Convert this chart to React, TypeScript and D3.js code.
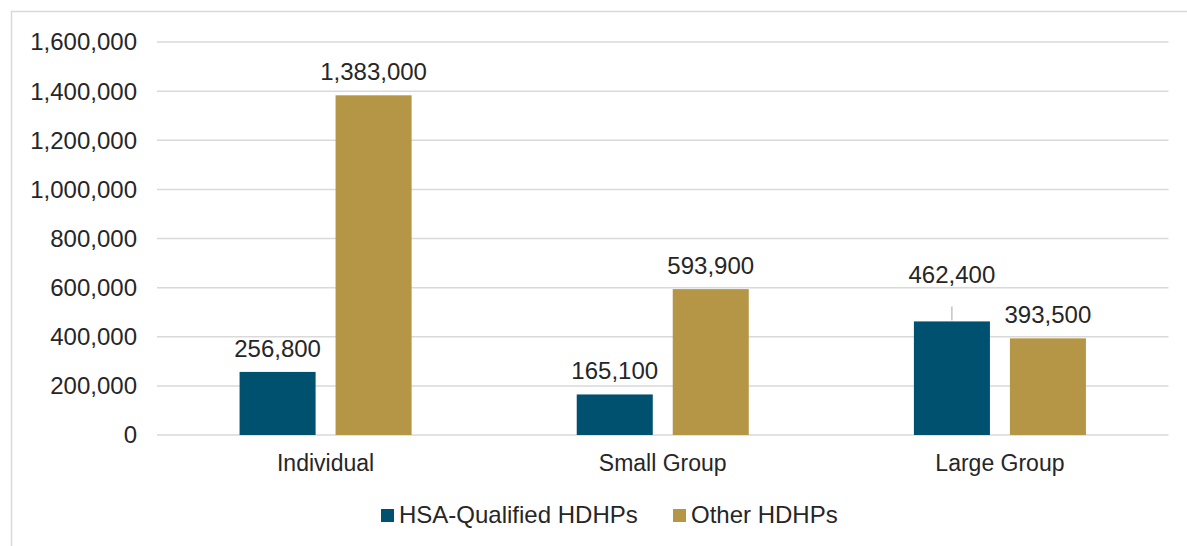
import React, { useRef, useEffect } from 'react';
import * as d3 from 'd3';

// chart data
const categories = ['Individual', 'Small Group', 'Large Group'];
const seriesNames = ['HSA-Qualified HDHPs', 'Other HDHPs'];
const hsaValues = [256800, 165100, 462400];
const otherValues = [1383000, 593900, 393500];
const yTicks = [0, 200000, 400000, 600000, 800000, 1000000, 1200000, 1400000, 1600000];

const colors = ['#00506f', '#b49646'];
const FONT = '"Liberation Sans", Arial, sans-serif';
const TEXT = '#262626';

const BarChart = () => {
    const ref = useRef<SVGSVGElement | null>(null);

    useEffect(() => {
        const width = 1187;
        const height = 546;
        const left = 157, right = 1168.5, top = 42, bottom = 435;

        const svg = d3.select(ref.current);
        svg.selectAll('*').remove();

        // outer frame
        svg.append('rect')
            .attr('x', 11.5).attr('y', 11.5)
            .attr('width', width + 20).attr('height', height + 20)
            .attr('fill', 'white')
            .attr('stroke', '#d9d9d9').attr('stroke-width', 1.5);

        const y = d3.scaleLinear().domain([0, 1600000]).range([bottom, top]);
        const x = d3.scaleBand().domain(categories).range([left, right]).padding(0);
        const xs = d3.scaleBand().domain(seriesNames).range([0, x.bandwidth()])
            .paddingInner(0.208).paddingOuter(0.86);

        const fmt = d3.format(',');

        // gridlines + y labels
        svg.append('g').selectAll('line').data(yTicks).enter().append('line')
            .attr('x1', left).attr('x2', right)
            .attr('y1', d => y(d)).attr('y2', d => y(d))
            .attr('stroke', '#d9d9d9').attr('stroke-width', 1.5);

        svg.append('g').selectAll('text').data(yTicks).enter().append('text')
            .attr('x', 137).attr('y', d => y(d))
            .attr('dy', '0.35em')
            .attr('text-anchor', 'end')
            .style('font-family', FONT).style('font-size', '24px').attr('fill', TEXT)
            .text(d => fmt(d));

        // bars
        const rows = categories.map((c, i) => ({ cat: c, vals: [hsaValues[i], otherValues[i]] }));
        const g = svg.append('g').selectAll('g').data(rows).enter().append('g')
            .attr('transform', d => `translate(${x(d.cat)},0)`);

        g.selectAll('rect')
            .data(d => d.vals.map((v, j) => ({ v, s: seriesNames[j], j, cat: d.cat })))
            .enter().append('rect')
            .attr('x', d => xs(d.s) as number)
            .attr('width', xs.bandwidth())
            .attr('y', d => y(d.v))
            .attr('height', d => bottom - y(d.v))
            .attr('fill', d => colors[d.j]);

        // data labels (the crowded Large Group HSA label is lifted with a leader line)
        const lift = (d: any) => (d.cat === 'Large Group' && d.j === 0 ? 23 : 0);
        g.selectAll('text.lbl')
            .data(d => d.vals.map((v, j) => ({ v, s: seriesNames[j], j, cat: d.cat })))
            .enter().append('text')
            .attr('class', 'lbl')
            .attr('x', d => (xs(d.s) as number) + xs.bandwidth() / 2)
            .attr('y', d => y(d.v) - 15 - lift(d))
            .attr('text-anchor', 'middle')
            .style('font-family', FONT).style('font-size', '24px').attr('fill', TEXT)
            .text(d => fmt(d.v));

        g.selectAll('line.leader')
            .data(d => d.vals.map((v, j) => ({ v, s: seriesNames[j], j, cat: d.cat })).filter(d => lift(d) > 0))
            .enter().append('line')
            .attr('class', 'leader')
            .attr('x1', d => (xs(d.s) as number) + xs.bandwidth() / 2)
            .attr('x2', d => (xs(d.s) as number) + xs.bandwidth() / 2)
            .attr('y1', d => y(d.v) - 1)
            .attr('y2', d => y(d.v) - 15)
            .attr('stroke', '#a6a6a6').attr('stroke-width', 1);

        // category labels
        svg.append('g').selectAll('text').data(categories).enter().append('text')
            .attr('x', d => (x(d) as number) + x.bandwidth() / 2)
            .attr('y', 471)
            .attr('text-anchor', 'middle')
            .style('font-family', FONT).style('font-size', '23px').attr('fill', TEXT)
            .text(d => d);

        // legend
        const legendX = [381, 673];
        const lg = svg.append('g').selectAll('g').data(seriesNames).enter().append('g')
            .attr('transform', (d, i) => `translate(${legendX[i]},509)`);
        lg.append('rect').attr('width', 13).attr('height', 13).attr('fill', (d, i) => colors[i]);
        lg.append('text').attr('x', 18).attr('y', 14)
            .style('font-family', FONT).style('font-size', '24px').attr('fill', TEXT)
            .text(d => d);
    }, []);

    return (
        <svg ref={ref} width={1187} height={546}
            style={{ position: 'absolute', left: 0, top: 0, background: 'white' }} />
    );
};

export default function App() {
    return <BarChart />;
}
